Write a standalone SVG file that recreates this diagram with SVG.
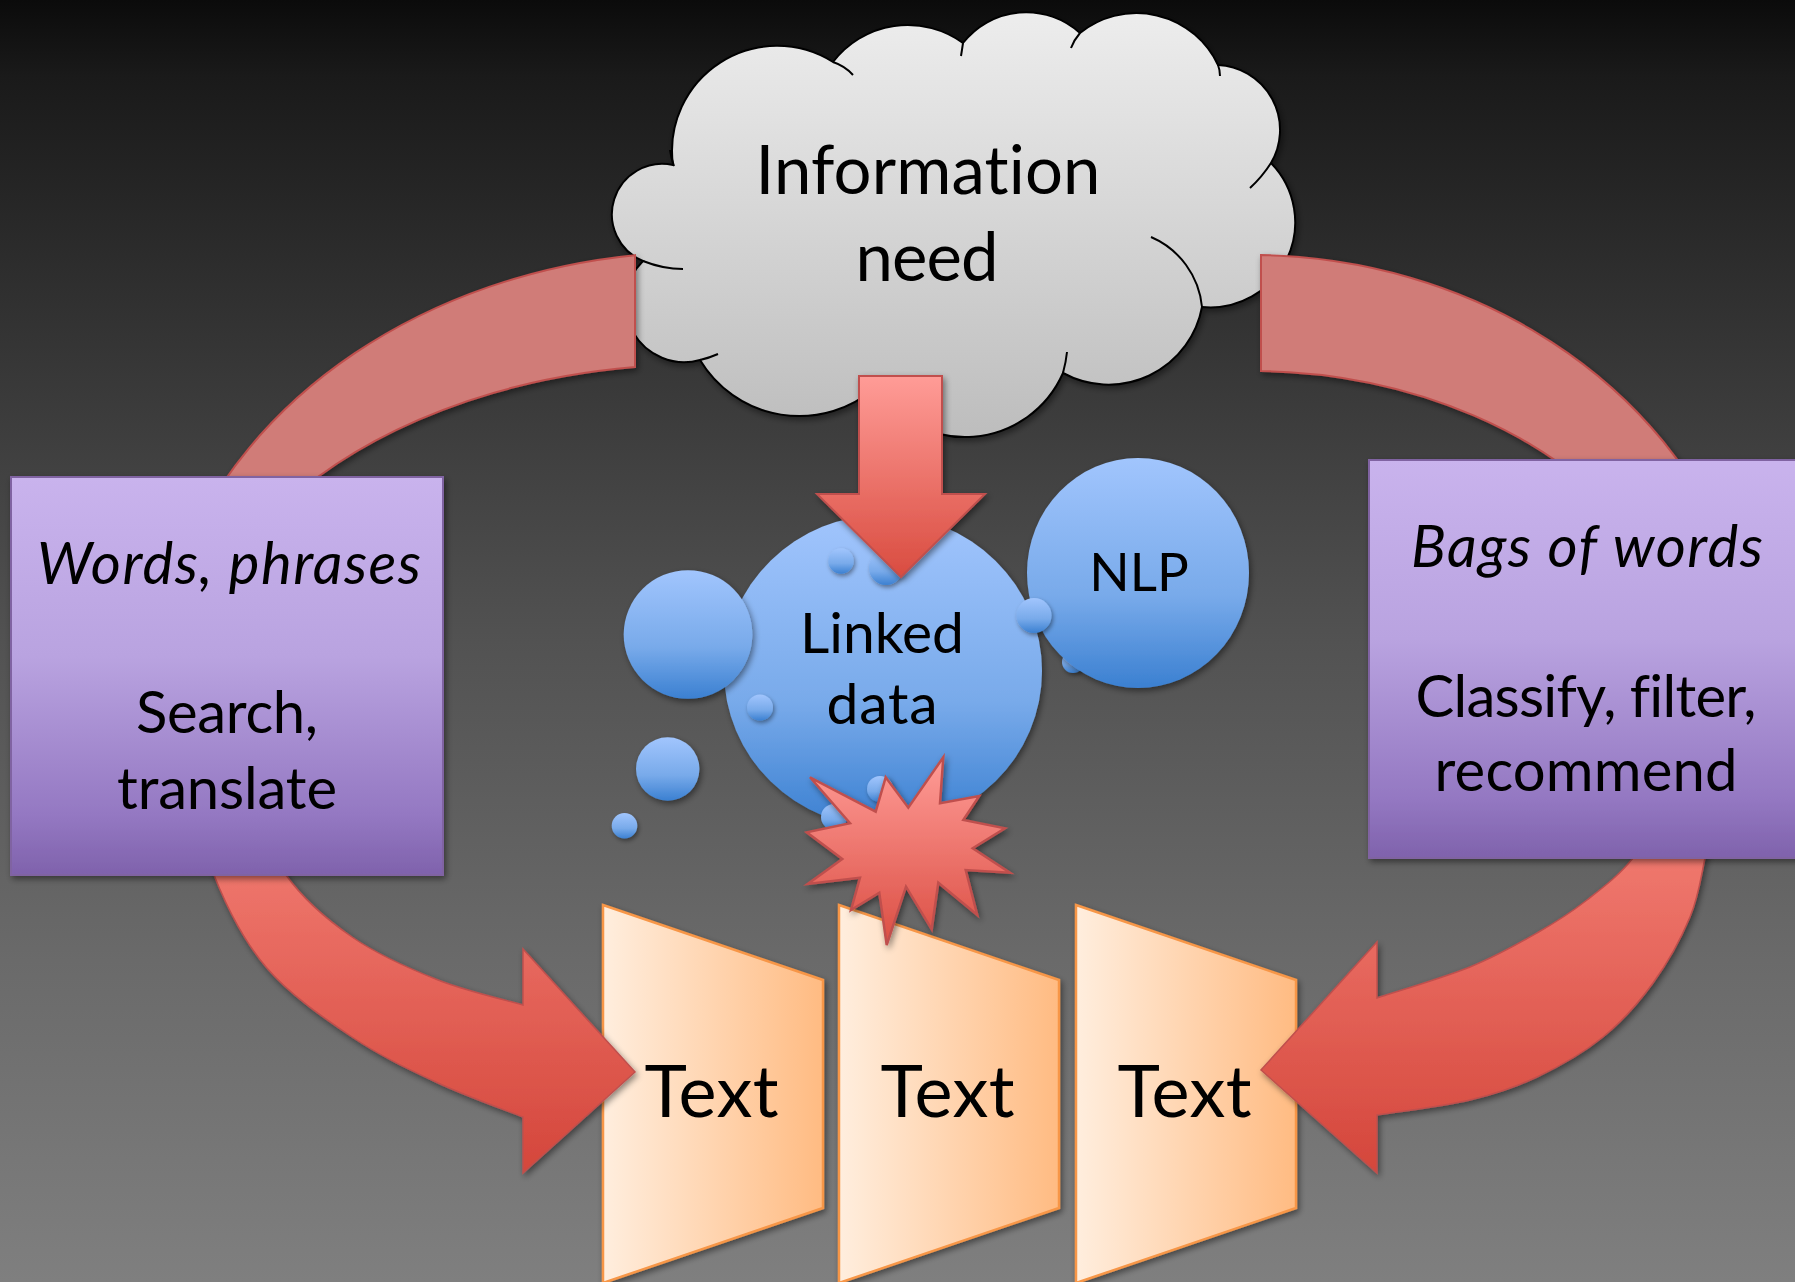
<svg xmlns="http://www.w3.org/2000/svg" width="1795" height="1282" viewBox="0 0 1795 1282">
<defs>
<linearGradient id="bg" x1="0" y1="0" x2="0" y2="1">
<stop offset="0" stop-color="#0b0b0b"/><stop offset="0.06" stop-color="#1a1a1a"/><stop offset="0.3" stop-color="#393939"/><stop offset="0.5" stop-color="#525252"/><stop offset="0.75" stop-color="#6a6a6a"/><stop offset="1" stop-color="#7f7f7f"/>
</linearGradient>
<linearGradient id="cloudG" x1="0" y1="0" x2="0" y2="1"><stop offset="0" stop-color="#ededed"/><stop offset="1" stop-color="#bdbdbd"/></linearGradient>
<linearGradient id="blueG" x1="0" y1="0" x2="0" y2="1"><stop offset="0" stop-color="#a1c5fd"/><stop offset="0.6" stop-color="#78aaea"/><stop offset="1" stop-color="#3b80d1"/></linearGradient>
<linearGradient id="purpleG" x1="0" y1="0" x2="0" y2="1"><stop offset="0" stop-color="#c9b3ed"/><stop offset="0.45" stop-color="#b9a3e0"/><stop offset="0.85" stop-color="#9478c2"/><stop offset="1" stop-color="#7f62ac"/></linearGradient>
<linearGradient id="peachG" x1="0" y1="0" x2="1" y2="0"><stop offset="0" stop-color="#ffeede"/><stop offset="1" stop-color="#ffbb82"/></linearGradient>
<linearGradient id="downG" gradientUnits="userSpaceOnUse" x1="0" y1="376" x2="0" y2="577"><stop offset="0" stop-color="#ff9c97"/><stop offset="1" stop-color="#d94c40"/></linearGradient>
<linearGradient id="starG" gradientUnits="userSpaceOnUse" x1="0" y1="757" x2="0" y2="945"><stop offset="0" stop-color="#ff9c97"/><stop offset="1" stop-color="#db4e43"/></linearGradient>
<linearGradient id="lowG" gradientUnits="userSpaceOnUse" x1="0" y1="860" x2="0" y2="1175"><stop offset="0" stop-color="#ef776d"/><stop offset="1" stop-color="#d4463b"/></linearGradient>
<filter id="sh" x="-20%" y="-20%" width="140%" height="140%"><feDropShadow dx="2" dy="3" stdDeviation="3" flood-color="#000" flood-opacity="0.45"/></filter>
<filter id="shs" x="-40%" y="-40%" width="180%" height="180%"><feDropShadow dx="1.5" dy="2.5" stdDeviation="2" flood-color="#000" flood-opacity="0.4"/></filter>
<style>
.t{font-family:Lato,"Liberation Sans",sans-serif;fill:#000;text-anchor:middle;font-variant-ligatures:none;font-feature-settings:"liga" 0,"clig" 0}
.it{font-style:italic}
.band{fill:#d07c78;stroke:#c0504d;stroke-width:2}
.low{fill:url(#lowG);stroke:#c0504d;stroke-width:1.5}
.box{fill:url(#purpleG);stroke:#8064a2;stroke-width:2}
.trap{fill:url(#peachG);stroke:#f79646;stroke-width:2.5}
.blue{fill:url(#blueG)}
.tick{fill:none;stroke:#000;stroke-width:2}
</style>
</defs>
<rect x="0" y="0" width="1795" height="1282" fill="url(#bg)"/>

<g id="cloud">
<path d="M643,261 A50.5,50.5 0 0 1 673,165 A105,105 0 0 1 833,62 A94,94 0 0 1 963,43 A80,80 0 0 1 1080,33 A90,90 0 0 1 1218,65 A65,65 0 0 1 1271,163 A85,85 0 0 1 1202,307 A95,95 0 0 1 1063,373 A107,107 0 0 1 875,388 A116,116 0 0 1 700,360 A59,59 0 0 1 643,261 Z" fill="url(#cloudG)" stroke="#000" stroke-width="2" filter="url(#sh)"/>
<path class="tick" d="M670,150 Q671,158 674,166 M833,62 Q845,66 853,75 M963,43 Q962,50 961,56 M1080,33 Q1074,40 1071,48 M1218,65 Q1220,70 1220,76 M1271,163 Q1262,177 1250,188 M1151,237 A85,85 0 0 1 1202,307 M1063,373 Q1066,362 1067,352 M700,360 Q709,358 718,354 M643,261 Q663,269 683,269"/>
<text class="t" x="928" y="194" font-size="67" textLength="345">Information</text>
<text class="t" x="927" y="281" font-size="67" textLength="143">need</text>
</g>

<g id="connectors">
<path id="band-left" class="band" filter="url(#sh)" d="M635,255.2 A545.5,448 0 0 0 182,560 L259.4,530 A511,335.7 0 0 1 635,367 Z"/>
<path id="band-right" class="band" filter="url(#sh)" d="M1261,255.1 A507.6,445.1 0 0 1 1731.8,560 L1631,530 A445,329.1 0 0 0 1261,371 Z"/>
</g>

<g id="text1"><polygon class="trap" filter="url(#sh)" points="603,905 823,980 823,1208 603,1283"/><text class="t" x="711.5" y="1117" font-size="72" textLength="134">Text</text></g>
<g id="text2"><polygon class="trap" filter="url(#sh)" points="839,905 1059,980 1059,1208 839,1283"/><text class="t" x="947.5" y="1117" font-size="72" textLength="134">Text</text></g>
<g id="text3"><polygon class="trap" filter="url(#sh)" points="1076,905 1296,980 1296,1208 1076,1283"/><text class="t" x="1184.5" y="1117" font-size="72" textLength="134">Text</text></g>

<g id="connectors-lower">
<path id="arrow-left" class="low" filter="url(#sh)" d="M200,800 C202.3,812.5 203,847.2 214,875 C225,902.8 243,940 266,967 C289,994 323.3,1017.7 352,1037 C380.7,1056.3 409.5,1069.7 438,1083 C466.5,1096.3 508.8,1111.3 523,1117 L523,1173 L635,1072 L523,949 L523,1005 C508.8,1000.8 466.5,991.3 438,980 C409.5,968.7 377.3,954.5 352,937 C326.7,919.5 302.2,897.8 286,875 C269.8,852.2 260.2,812.5 255,800 Z"/>
<path id="arrow-right" class="low" filter="url(#sh)" d="M1715,800 C1713.3,809.7 1709.2,838.5 1705,858 C1700.8,877.5 1698.7,896.2 1690,917 C1681.3,937.8 1667.5,963 1653,983 C1638.5,1003 1622.3,1021.3 1603,1037 C1583.7,1052.7 1559.2,1066.5 1537,1077 C1514.8,1087.5 1496.7,1093.7 1470,1100 C1443.3,1106.3 1392.5,1112.5 1377,1115 L1377,1173 L1261,1070 L1377,942 L1377,998 C1392.5,992.8 1443.3,977.8 1470,967 C1496.7,956.2 1517.5,944.2 1537,933 C1556.5,921.8 1571,912.5 1587,900 C1603,887.5 1620,874.7 1633,858 C1646,841.3 1659.7,809.7 1665,800 Z"/>
</g>

<g id="box-left">
<rect class="box" filter="url(#sh)" x="11" y="477" width="432" height="398"/>
<text class="t it" x="229" y="584" font-size="58" textLength="384">Words, phrases</text>
<text class="t" x="227" y="733" font-size="58" textLength="182">Search,</text>
<text class="t" x="227" y="809" font-size="58" textLength="220">translate</text>
</g>
<g id="box-right">
<rect class="box" filter="url(#sh)" x="1369" y="460" width="440" height="398"/>
<text class="t it" x="1587" y="567" font-size="58" textLength="352">Bags of words</text>
<text class="t" x="1586" y="717" font-size="58" textLength="341">Classify, filter,</text>
<text class="t" x="1586" y="791" font-size="58" textLength="303">recommend</text>
</g>

<g id="linked-data">
<ellipse class="blue" filter="url(#sh)" cx="883" cy="671" rx="159" ry="156"/>
<circle class="blue" filter="url(#shs)" cx="841" cy="561" r="12.7"/>
<circle class="blue" filter="url(#shs)" cx="886" cy="568" r="17"/>
<circle class="blue" filter="url(#shs)" cx="760" cy="707.5" r="13"/>
<circle class="blue" filter="url(#shs)" cx="880" cy="789" r="13"/>
<circle class="blue" filter="url(#shs)" cx="834" cy="817" r="13"/>
<text class="t" x="882" y="652.7" font-size="57" textLength="164">Linked</text>
<text class="t" x="882" y="724" font-size="57" textLength="111">data</text>
</g>
<g id="bubbles">
<circle class="blue" filter="url(#sh)" cx="688" cy="634.5" r="64.3"/>
<circle class="blue" filter="url(#sh)" cx="667.7" cy="769" r="31.7"/>
<circle class="blue" filter="url(#shs)" cx="624.5" cy="825.8" r="12.8"/>
<circle class="blue" filter="url(#shs)" cx="1073" cy="662" r="11"/>
</g>
<g id="nlp">
<ellipse class="blue" filter="url(#sh)" cx="1138" cy="573" rx="111" ry="115"/>
<text class="t" x="1139" y="590.7" font-size="53">NLP</text>
</g>
<g id="bubble-join"><circle class="blue" filter="url(#shs)" cx="1034" cy="615.5" r="17.5"/></g>

<g id="down-arrow">
<polygon filter="url(#sh)" points="859,376 942,376 942,494 985,494 901,577 817,494 859,494" fill="url(#downG)" stroke="#c0504d" stroke-width="2"/>
</g>
<g id="burst">
<polygon filter="url(#sh)" fill="url(#starG)" stroke="#c0504d" stroke-width="2.5" stroke-linejoin="miter" points="810,777.3 875.7,811.7 885.7,777.3 908.3,807.7 943.3,757.3 940,803.3 979.3,796 963.3,820 1005,828.3 972.7,848.3 1010,872.7 965.7,870 977.3,915 938.3,882.7 931.7,929.3 906,886.7 886.7,945 879.3,892.7 851,910 860,877.7 807.7,884 842.3,859 806.7,832.3 850,823.3"/>
</g>
</svg>
